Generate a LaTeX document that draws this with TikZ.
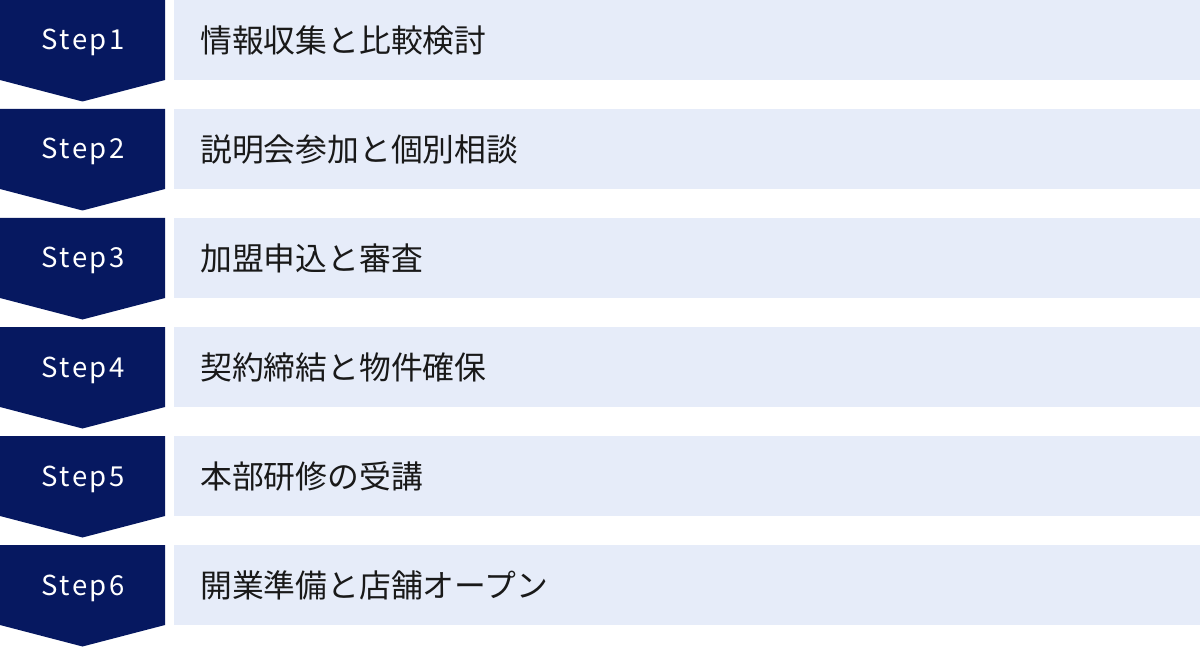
\documentclass[tikz,border=0pt]{standalone}
\usepackage{fontspec}
\setmainfont{Noto Sans CJK JP}
\newfontfamily\stepfont[LetterSpace=9]{Noto Sans CJK JP}
\newfontfamily\jpfont{Noto Sans CJK JP}
\definecolor{navy}{RGB}{6,24,96}
\definecolor{lightbg}{RGB}{230,236,249}
\definecolor{ink}{RGB}{25,25,25}
\tikzset{
  stepshape/.style={fill=navy, draw=none},
  stepbox/.style={fill=lightbg, draw=none, anchor=north west, minimum width=1026pt, minimum height=80pt, inner sep=0pt},
  steplabel/.style={text=white, font=\stepfont\fontsize{27.5}{32}\selectfont, inner sep=0pt, anchor=base},
  desc/.style={text=ink, font=\jpfont\fontsize{31.8}{36}\selectfont, anchor=west, inner sep=0pt}
}
\begin{document}
\begin{tikzpicture}[x=1pt,y=-1pt]
\useasboundingbox (0,0) rectangle (1200,647);
\foreach \i/\txt in {1/情報収集と比較検討,2/説明会参加と個別相談,3/加盟申込と審査,4/契約締結と物件確保,5/本部研修の受講,6/開業準備と店舗オープン}{
  \pgfmathsetmacro{\top}{(\i-1)*109}
  \fill[stepshape] (0,\top) -- (165,\top) -- (165,\top+80) -- (82.5,\top+101.5) -- (0,\top+80) -- cycle;
  \node[stepbox] (box\i) at (174,\top) {};
  \node[steplabel] (step\i) at (83,\top+50) {Step\i};
  \node[desc] (desc\i) at (200,\top+40) {\txt};
}
\end{tikzpicture}
\end{document}
